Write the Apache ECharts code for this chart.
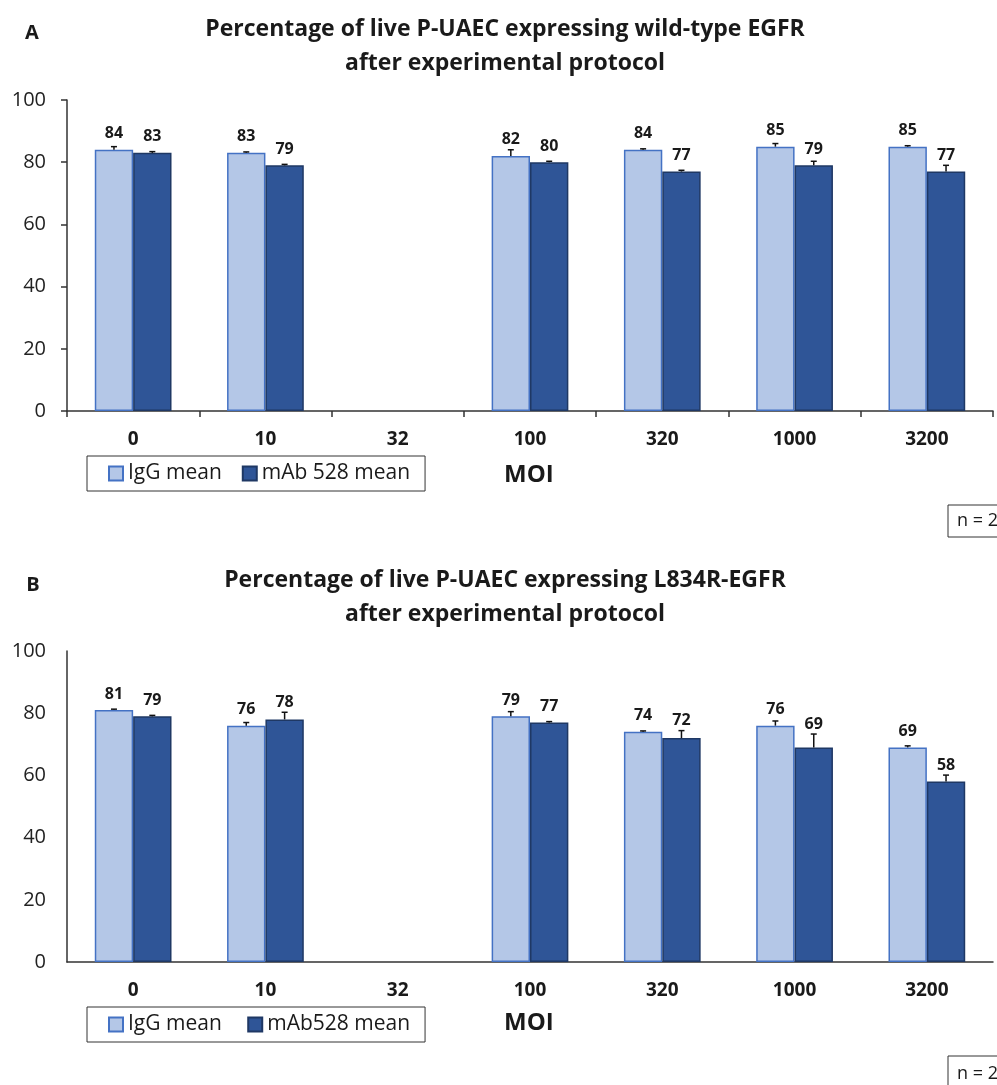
<!DOCTYPE html>
<html>
<head>
<meta charset="utf-8">
<script src="https://cdn.jsdelivr.net/npm/echarts@6/dist/echarts.min.js"></script>
<style>
  html, body { margin: 0; padding: 0; background: #fff; }
  #chart { width: 997px; height: 1085px; }
</style>
</head>
<body>
<div id="chart"></div>
<script>
// MOI categories shared by both panels
const categories = ['0', '10', '32', '100', '320', '1000', '3200'];

// Panel A: wild-type EGFR (% live cells)
const igGA = [84, 83, null, 82, 84, 85, 85];
const mAbA = [83, 79, null, 80, 77, 79, 77];
const igGErrA = [1, 0.3, null, 2, 0.3, 1, 0.3];
const mAbErrA = [0.4, 0.3, null, 0.3, 0.4, 1.3, 2];

// Panel B: L834R-EGFR (% live cells)
const igGB = [81, 76, null, 79, 74, 76, 69];
const mAbB = [79, 78, null, 77, 72, 69, 58];
const igGErrB = [0.3, 1, null, 1.5, 0.3, 1.5, 0.5];
const mAbErrB = [0.3, 2.3, null, 0.3, 2.4, 4.3, 2.1];

const yTicks = [0, 20, 40, 60, 80, 100];

const FONT = '"Open Sans", "Noto Sans", sans-serif';
const BAR_W = 0.29;
const lightStyle = { color: '#B4C7E7', borderColor: '#4472C4', borderWidth: 1.5 };
const darkStyle = { color: '#2F5597', borderColor: '#1F3864', borderWidth: 1.5 };

// error bar (positive side) plus value label drawn above each bar
function errRender(side) {
  return function (params, api) {
    const idx = api.value(0), v = api.value(1), e = api.value(2);
    const band = api.size([1, 0])[0];
    const bw = band * BAR_W;
    const top = api.coord([idx, v]);
    const cap = api.coord([idx, v + e]);
    const x = top[0] + side * bw / 2;
    const base = Math.min(top[1] - 10, cap[1] - 4);
    return {
      type: 'group',
      children: [
        { type: 'line', shape: { x1: x, y1: top[1], x2: x, y2: cap[1] }, style: { stroke: '#111', lineWidth: 1.5 } },
        { type: 'line', shape: { x1: x - 3, y1: cap[1], x2: x + 3, y2: cap[1] }, style: { stroke: '#111', lineWidth: 1.5 } },
        { type: 'text', x: x, y: base - 6, style: { text: String(v), fill: '#1a1a1a', font: 'bold 16px ' + FONT, align: 'center', verticalAlign: 'middle' } }
      ]
    };
  };
}

function errData(vals, errs) {
  const out = [];
  vals.forEach((v, i) => { if (v != null) out.push([i, v, errs[i]]); });
  return out;
}

function xAxisFor(gridIndex, ticks) {
  return {
    type: 'category', gridIndex: gridIndex, data: categories,
    axisLine: { lineStyle: { color: '#333', width: 1.5 } },
    axisTick: { show: ticks, length: 6, lineStyle: { color: '#333', width: 1.5 } },
    axisLabel: { color: '#1a1a1a', fontFamily: FONT, fontWeight: 'bold', fontSize: 19, margin: 19 }
  };
}
function yAxisFor(gridIndex, ticks) {
  return {
    type: 'value', gridIndex: gridIndex, min: yTicks[0], max: yTicks[yTicks.length - 1], interval: 20,
    splitLine: { show: false },
    axisLine: { show: true, lineStyle: { color: '#333', width: 1.5 } },
    axisTick: { show: ticks, length: 6, lineStyle: { color: '#333', width: 1.5 } },
    axisLabel: { color: '#222', fontFamily: FONT, fontSize: 20, margin: 21 }
  };
}

function barSeries(name, data, style, axis) {
  return {
    type: 'bar', name: name, data: data, xAxisIndex: axis, yAxisIndex: axis,
    barWidth: (BAR_W * 100) + '%', barGap: '0%', itemStyle: style, animation: false
  };
}
function errSeries(vals, errs, side, axis) {
  return {
    type: 'custom', xAxisIndex: axis, yAxisIndex: axis, z: 5,
    data: errData(vals, errs), encode: { x: 0, y: 1 },
    renderItem: errRender(side), animation: false, silent: true
  };
}

function legendFor(top, names) {
  return {
    left: 87, top: top, orient: 'horizontal',
    data: names, icon: 'rect', itemWidth: 14, itemHeight: 14, itemGap: 20,
    borderColor: '#333', borderWidth: 1, padding: [7, 15, 7, 21],
    selectedMode: false,
    textStyle: { fontFamily: FONT, fontSize: 21, color: '#1a1a1a' }
  };
}

const chart = echarts.init(document.getElementById('chart'), null, { renderer: 'canvas' });
chart.setOption({
  animation: false,
  grid: [
    { left: 67, top: 100, width: 926, height: 311 },
    { left: 67, top: 651, width: 926, height: 311 }
  ],
  xAxis: [xAxisFor(0, true), xAxisFor(1, false)],
  yAxis: [yAxisFor(0, true), yAxisFor(1, false)],
  legend: [
    legendFor(456, ['IgG mean', 'mAb 528 mean']),
    legendFor(1007, ['IgG mean ', 'mAb528 mean'])
  ],
  series: [
    barSeries('IgG mean', igGA, lightStyle, 0),
    barSeries('mAb 528 mean', mAbA, darkStyle, 0),
    errSeries(igGA, igGErrA, -1, 0),
    errSeries(mAbA, mAbErrA, 1, 0),
    barSeries('IgG mean ', igGB, lightStyle, 1),
    barSeries('mAb528 mean', mAbB, darkStyle, 1),
    errSeries(igGB, igGErrB, -1, 1),
    errSeries(mAbB, mAbErrB, 1, 1)
  ],
  graphic: [
    { type: 'text', x: 32, y: 33, style: { text: 'A', font: 'bold 20px ' + FONT, fill: '#1a1a1a', align: 'center', verticalAlign: 'middle' } },
    { type: 'text', x: 33, y: 585, style: { text: 'B', font: 'bold 20px ' + FONT, fill: '#1a1a1a', align: 'center', verticalAlign: 'middle' } },
    { type: 'text', x: 505, y: 46, style: { text: 'Percentage of live P-UAEC expressing wild-type EGFR\nafter experimental protocol', font: 'bold 23px ' + FONT, fill: '#1a1a1a', align: 'center', verticalAlign: 'middle', lineHeight: 34 } },
    { type: 'text', x: 505, y: 597, style: { text: 'Percentage of live P-UAEC expressing L834R-EGFR\nafter experimental protocol', font: 'bold 23px ' + FONT, fill: '#1a1a1a', align: 'center', verticalAlign: 'middle', lineHeight: 34 } },
    { type: 'text', x: 504, y: 475, style: { text: 'MOI', font: 'bold 24px ' + FONT, fill: '#1a1a1a', verticalAlign: 'middle' } },
    { type: 'text', x: 504, y: 1023, style: { text: 'MOI', font: 'bold 24px ' + FONT, fill: '#1a1a1a', verticalAlign: 'middle' } },
    { type: 'rect', shape: { x: 948, y: 505, width: 80, height: 32 }, style: { fill: '#fff', stroke: '#333', lineWidth: 1 } },
    { type: 'text', x: 957, y: 521, style: { text: 'n = 2', font: '18px ' + FONT, fill: '#1a1a1a', verticalAlign: 'middle' } },
    { type: 'rect', shape: { x: 948, y: 1056, width: 80, height: 40 }, style: { fill: '#fff', stroke: '#333', lineWidth: 1 } },
    { type: 'text', x: 957, y: 1074, style: { text: 'n = 2', font: '18px ' + FONT, fill: '#1a1a1a', verticalAlign: 'middle' } }
  ]
});
</script>
</body>
</html>
